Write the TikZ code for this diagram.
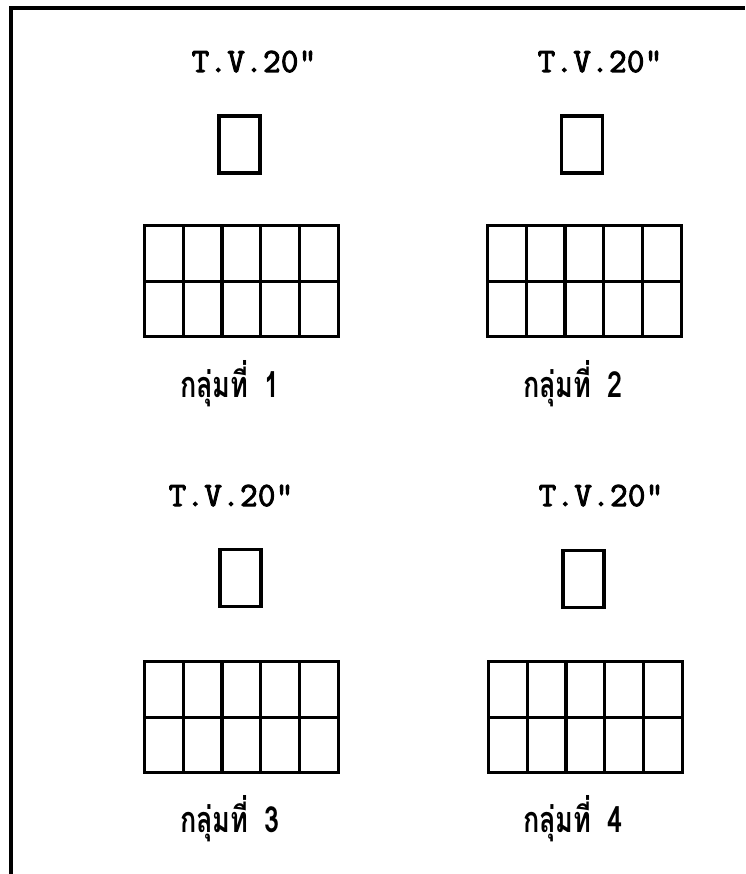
\documentclass[tikz,border=0pt]{standalone}
\usepackage{fontspec}
\newfontfamily\tvfont[LetterSpace=1,FakeBold=3]{Latin Modern Mono}
\newfontfamily\thaifont[Script=Thai]{Loma}
\tikzset{frame/.style={
    line width=3.2pt
  },
  tvlabel/.style={
    anchor=base,
    inner sep=0pt,
    font=\tvfont\fontsize{34}{34}\selectfont
  },
  tvbox/.style={
    rectangle,
    draw,
    line width=3.2pt,
    minimum width=41pt,
    minimum height=57pt,
    inner sep=0pt
  },
  seatbox/.style={tvbox,minimum width=38.7pt,minimum height=55.5pt,anchor=north west},
  grouplabel/.style={
    anchor=base,
    inner sep=0pt,
    xscale=0.75,
    font=\thaifont\bfseries\fontsize{36}{36}\selectfont
  },
}
\begin{document}
\begin{tikzpicture}[x=1pt,y=-1pt]
  \useasboundingbox (0,0) rectangle (745,874);
  \coordinate (fbl) at (11,874);
  \coordinate (ftl) at (11,8);
  \coordinate (ftr) at (745,8);
  \draw[frame] (fbl) -- (ftl) -- (ftr);
  % one group: label, screen, seats, name
  \foreach \g/\tx/\ty/\bx/\by/\gx/\gy/\lx/\ly in {
      1/254/72/239.5/144.5/143/224/230/397,
      2/600/72/582/144.5/486/224/573/397,
      3/231/506/240.5/578/143/660/230/832,
      4/601/506/583.5/579/487/660/573/832}{
    \node[tvlabel] (tv\g) at (\tx,\ty) {T.V.20"};
    \node[tvbox] (screen\g) at (\bx,\by) {};
    \foreach \r in {1,2}
      \foreach \c in {1,...,5}
        \node[seatbox] (seat\g-\r-\c) at ({\gx+(\c-1)*38.7},{\gy+(\r-1)*55.5}) {};
    \node[grouplabel] (group\g) at (\lx,\ly) {กลุ่มที่\hspace{0.6em}\g};
  }
\end{tikzpicture}
\end{document}
